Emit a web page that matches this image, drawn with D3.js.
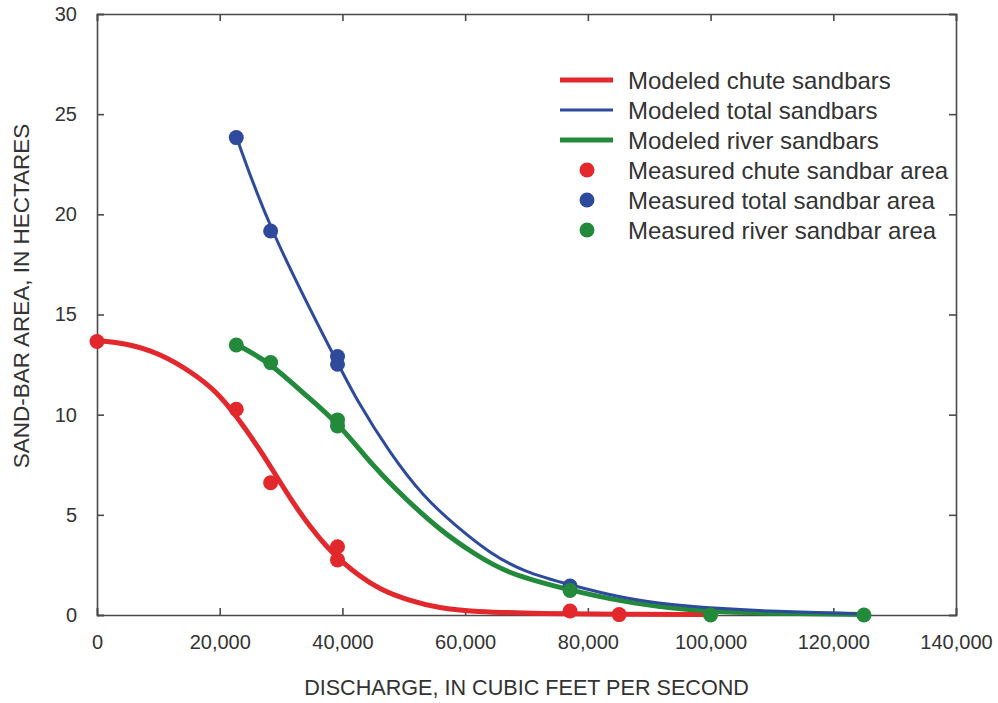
<!DOCTYPE html>
<html>
<head>
<meta charset="utf-8">
<script src="https://cdn.jsdelivr.net/npm/d3@7"></script>
<style>
  html, body { margin: 0; padding: 0; background: #fff; }
  svg { display: block; font-family: "Liberation Sans", Arial, Helvetica, sans-serif; }
</style>
</head>
<body>
<svg id="chart" width="998" height="703"></svg>
<script>
// ---- Data ----
const xTicks = [0, 20000, 40000, 60000, 80000, 100000, 120000, 140000];
const yTicks = [0, 5, 10, 15, 20, 25, 30];

const modeledChuteX = [0, 4800, 10300, 15700, 19500, 22800, 26600, 29300, 32000, 34700, 37400, 39600, 42900, 46100, 50500, 55900, 61300, 72200, 85000, 100000];
const modeledChuteY = [13.7, 13.56, 13.06, 12.07, 11.15, 9.9, 8.24, 6.9, 5.58, 4.41, 3.41, 2.75, 1.91, 1.28, 0.75, 0.33, 0.17, 0.07, 0.03, 0.02];

const modeledTotalX = [22760, 28200, 39000, 42300, 47750, 53180, 58620, 64050, 69480, 77090, 85780, 93920, 101000, 110000, 125000];
const modeledTotalY = [23.83, 19.17, 12.7, 10.73, 8.07, 5.9, 4.41, 3.08, 2.16, 1.5, 0.83, 0.5, 0.33, 0.18, 0.05];

const modeledRiverX = [22760, 28200, 33600, 39300, 45030, 50470, 55900, 61330, 66770, 76800, 85780, 93920, 99900, 110000, 125000];
const modeledRiverY = [13.5, 12.6, 11.07, 9.6, 7.4, 5.74, 4.24, 3.08, 2.08, 1.25, 0.66, 0.33, 0.17, 0.08, 0.03];

const measuredChuteX = [0, 22700, 28300, 39200, 39200, 77100, 85100];
const measuredChuteY = [13.65, 10.27, 6.6, 3.41, 2.75, 0.2, 0.02];

const measuredTotalX = [22700, 28300, 39200, 39200, 77100];
const measuredTotalY = [23.83, 19.17, 12.9, 12.52, 1.45];

const measuredRiverX = [22700, 28300, 39200, 39200, 77100, 100000, 125000];
const measuredRiverY = [13.48, 12.6, 9.74, 9.44, 1.22, 0.0, 0.0];

const legendLabels = ["Modeled chute sandbars", "Modeled total sandbars", "Modeled river sandbars",
                      "Measured chute sandbar area", "Measured total sandbar area", "Measured river sandbar area"];

const xTitle = "DISCHARGE, IN CUBIC FEET PER SECOND";
const yTitle = "SAND-BAR AREA, IN HECTARES";

// ---- Styles ----
const RED = "#e2282c", BLUE = "#2d4a9d", GREEN = "#238a3b", AXIS = "#4a4a4a";

const svg = d3.select("#chart");
const pLeft = 97, pRight = 956, pTop = 14, pBottom = 615;

const x = d3.scaleLinear().domain([0, 140000]).range([pLeft, pRight]);
const y = d3.scaleLinear().domain([0, 30]).range([pBottom, pTop]);

const fmt = d3.format(",");

// inner ticks on all sides
const tickLen = 7;
const gAxes = svg.append("g");

gAxes.append("g").attr("transform", `translate(0,${pBottom})`)
  .call(d3.axisBottom(x).tickValues(xTicks).tickSize(-tickLen).tickPadding(tickLen + 13).tickFormat(fmt));
gAxes.append("g").attr("transform", `translate(0,${pTop})`)
  .call(d3.axisTop(x).tickValues(xTicks).tickSize(-tickLen).tickFormat(""));
gAxes.append("g").attr("transform", `translate(${pLeft},0)`)
  .call(d3.axisLeft(y).tickValues(yTicks).tickSize(-tickLen).tickPadding(tickLen + 13));
gAxes.append("g").attr("transform", `translate(${pRight},0)`)
  .call(d3.axisRight(y).tickValues(yTicks).tickSize(-tickLen).tickFormat(""));

gAxes.selectAll(".domain").attr("stroke", AXIS).attr("stroke-width", 1.6);
gAxes.selectAll(".tick line").attr("stroke", AXIS).attr("stroke-width", 1.6);
gAxes.selectAll(".tick text").attr("fill", "#333").style("font-size", "20px")
  .style("font-family", '"Liberation Sans", Arial, sans-serif');

// axis titles
svg.append("text").attr("x", (pLeft + pRight) / 2).attr("y", 695)
  .attr("text-anchor", "middle").attr("fill", "#333").style("font-size", "21.6px").text(xTitle);
svg.append("text").attr("transform", "translate(29,296) rotate(-90)")
  .attr("text-anchor", "middle").attr("fill", "#333").style("font-size", "22.5px").text(yTitle);

// ---- Modeled curves ----
const line = d3.line().x(d => x(d[0])).y(d => y(d[1])).curve(d3.curveBasis);
const zip = (xs, ys) => xs.map((v, i) => [v, ys[i]]);

const gPlot = svg.append("g");
gPlot.append("path").datum(zip(modeledChuteX, modeledChuteY)).attr("d", line)
  .attr("fill", "none").attr("stroke", RED).attr("stroke-width", 5);
gPlot.append("path").datum(zip(modeledRiverX, modeledRiverY)).attr("d", line)
  .attr("fill", "none").attr("stroke", GREEN).attr("stroke-width", 5);
gPlot.append("path").datum(zip(modeledTotalX, modeledTotalY)).attr("d", line)
  .attr("fill", "none").attr("stroke", BLUE).attr("stroke-width", 3);

// ---- Measured points ----
const R = 7.5;
function dots(xs, ys, color) {
  gPlot.append("g").selectAll("circle").data(zip(xs, ys)).join("circle")
    .attr("cx", d => x(d[0])).attr("cy", d => y(d[1])).attr("r", R).attr("fill", color);
}
dots(measuredChuteX, measuredChuteY, RED);
dots(measuredTotalX, measuredTotalY, BLUE);
dots(measuredRiverX, measuredRiverY, GREEN);

// ---- Legend ----
const legendColors = [RED, BLUE, GREEN, RED, BLUE, GREEN];
const legendWidths = [5, 3, 5];
const gLeg = svg.append("g");
legendLabels.forEach((lab, i) => {
  const cy = 80 + i * 30;
  if (i < 3) {
    gLeg.append("line").attr("x1", 560).attr("x2", 613).attr("y1", cy).attr("y2", cy)
      .attr("stroke", legendColors[i]).attr("stroke-width", legendWidths[i]);
  } else {
    gLeg.append("circle").attr("cx", 587).attr("cy", cy).attr("r", R).attr("fill", legendColors[i]);
  }
  gLeg.append("text").attr("x", 628).attr("y", cy + 8.5).attr("fill", "#333")
    .style("font-size", "24px").text(lab);
});
</script>
</body>
</html>
